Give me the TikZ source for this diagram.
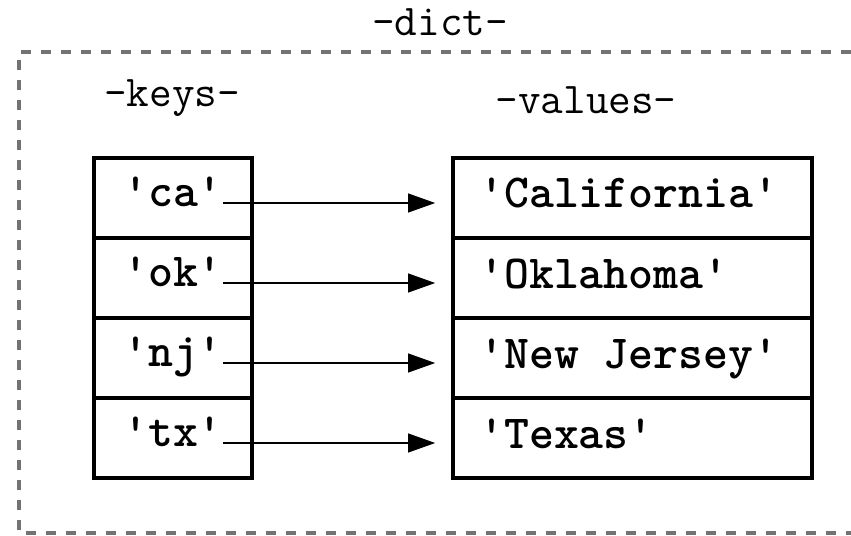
\documentclass[tikz,border=0pt]{standalone}
\usepackage{fontspec}
\usetikzlibrary{arrows.meta}

\begin{document}
\begin{tikzpicture}[
    keybox/.style={shape=rectangle,draw,line width=0.075cm,minimum width=3.16cm,minimum height=1.6cm},
    valbox/.style={shape=rectangle,draw,line width=0.075cm,minimum width=7.18cm,minimum height=1.6cm},
    keytext/.style={inner sep=0pt,text height=0.5em,text depth=0.08em,
        font=\ttfamily\bfseries\fontsize{27}{30}\selectfont},
    valtext/.style={inner sep=0pt,anchor=base west,
        font=\ttfamily\bfseries\fontsize{27}{30}\selectfont},
    title/.style={font=\ttfamily\fontsize{25}{28}\selectfont},
    keyarrow/.style={-{Triangle[length=0.54cm,width=0.38cm]},line width=0.6pt,shorten >=0.32cm}
    ]
    \definecolor{dict_border}{RGB}{115,115,115}
    \useasboundingbox (0,0) rectangle (17.02,10.70);

    % the dict
    \draw[dict_border,line width=0.065cm,dash pattern=on 0.2cm off 0.2cm] (17.02,9.66) to (0.38,9.66) to (0.38,0.04) to (17.02,0.04);
    \node[title] (dict) at (8.8,10.25) {-dict-};
    \node[title] (keys) at (3.44,8.73) {-keys-};
    \node[title] (values) at (11.72,8.7) {-values-};

    % keys
    \node[keybox] (kbox1) at (3.46,6.74) {};
    \node[keybox] (kbox2) at (3.46,5.14) {};
    \node[keybox] (kbox3) at (3.46,3.54) {};
    \node[keybox] (kbox4) at (3.46,1.94) {};
    \node[keytext] (kca) at (3.46,6.64) {'ca'};
    \node[keytext] (kok) at (3.46,5.04) {'ok'};
    \node[keytext] (knj) at (3.46,3.44) {'nj'};
    \node[keytext] (ktx) at (3.46,1.84) {'tx'};

    % values
    \node[valbox] (vca) at (12.65,6.74) {};
    \node[valbox] (vok) at (12.65,5.14) {};
    \node[valbox] (vnj) at (12.65,3.54) {};
    \node[valbox] (vtx) at (12.65,1.94) {};
    \node[valtext] (tca) at (9.58,6.54) {'California'};
    \node[valtext] (tok) at (9.58,4.94) {'Oklahoma'};
    \node[valtext] (tnj) at (9.58,3.34) {'New Jersey'};
    \node[valtext] (ttx) at (9.58,1.74) {'Texas'};

    \draw[keyarrow] (kca.east) to (kca.east -| vca.west);
    \draw[keyarrow] (kok.east) to (kok.east -| vok.west);
    \draw[keyarrow] (knj.east) to (knj.east -| vnj.west);
    \draw[keyarrow] (ktx.east) to (ktx.east -| vtx.west);
\end{tikzpicture}
\end{document}
